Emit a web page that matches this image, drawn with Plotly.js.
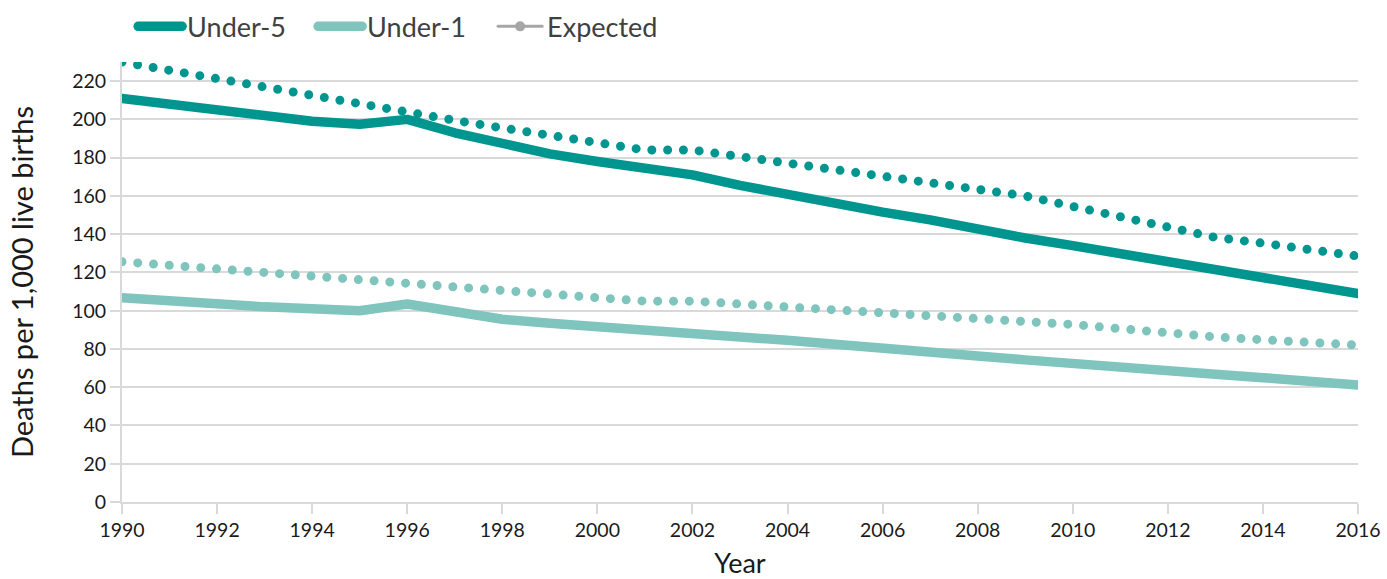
<!DOCTYPE html>
<html>
<head>
<meta charset="utf-8">
<script src="https://cdn.plot.ly/plotly-3.0.1.min.js"></script>
<style>
  html, body { margin: 0; padding: 0; background: #fff; }
  #chart { width: 1387px; height: 579px; }
  .scatterlayer .js-line { stroke-linecap: round !important; stroke-linejoin: round !important; }
  .legend .js-line { stroke-linecap: round !important; }
</style>
</head>
<body>
<div id="chart"></div>
<script>
const years = [1990,1991,1992,1993,1994,1995,1996,1997,1998,1999,2000,2001,2002,2003,2004,2005,2006,2007,2008,2009,2010,2011,2012,2013,2014,2015,2016];
const under5 = [211,208,205,202,199,197.5,200,193,187,182,178,175,171,165.5,160.5,155.5,151.5,147.5,142.5,138,134,130,126,121.5,117,113,109];
const under1 = [106.8,105,103.5,102,101,100,103.5,99,95.5,93.4,91.7,90.7,88.8,86.5,84.5,82.5,80.8,78.8,76.3,74.3,72.7,70.7,68.8,66.8,65,63,61.2];
const expected5 = [230,225.5,221,216.7,212.2,207.8,203.4,199.5,195.5,191.8,187.5,184,184,180.5,177,173.3,170,166.7,163.3,160,154.5,148.8,143.5,138.3,135.3,131.5,128.5];
const expected1 = [125.6,123.6,121.7,119.7,117.7,115.7,113.8,112,110.2,108.7,106.8,105,105,103.5,102,100.7,99.4,98,96.5,95,92.8,90.6,88.2,86.3,84.8,83.2,82];
const seriesNames = ["Under-5", "Under-1", "Expected"];

const dark = "#00968F", light = "#7FC4BD", grey = "#A6A6A6";
const dotDash = "0px,15.8px";
const fam = "Lato, 'Open Sans', sans-serif";

const traces = [
  {x: years, y: expected1, mode: "lines", line: {color: light, width: 9, dash: dotDash}, showlegend: false, hoverinfo: "skip"},
  {x: years, y: expected5, mode: "lines", line: {color: dark, width: 9, dash: dotDash}, showlegend: false, hoverinfo: "skip"},
  {x: years, y: under1, mode: "lines", name: seriesNames[1], line: {color: light, width: 9.5}, legendrank: 2},
  {x: years, y: under5, mode: "lines", name: seriesNames[0], line: {color: dark, width: 9.5}, legendrank: 1},
  {x: [null], y: [null], mode: "lines+markers", name: seriesNames[2], line: {color: grey, width: 3}, marker: {color: grey, size: 10}, legendrank: 3}
];

const axisFont = {family: fam, size: 19.5, color: "#1a1a1a"};
const layout = {
  width: 1387, height: 579,
  margin: {l: 122, r: 29, t: 62, b: 77, pad: 0, autoexpand: false},
  paper_bgcolor: "#fff", plot_bgcolor: "#fff",
  font: {family: fam, color: "#1a1a1a"},
  showlegend: true,
  legend: {
    orientation: "h", x: 0.009, xanchor: "left", y: 1.08, yanchor: "middle",
    font: {family: fam, size: 27, color: "#404040"},
    entrywidth: 121, entrywidthmode: "pixels", itemwidth: 44,
    bgcolor: "rgba(0,0,0,0)", traceorder: "normal"
  },
  xaxis: {
    range: [1990, 2016], tick0: 1990, dtick: 2, tickmode: "linear",
    showgrid: false, zeroline: false,
    showline: true, linecolor: "#D9D9D9", linewidth: 2,
    ticks: "outside", ticklen: 10, tickwidth: 2, tickcolor: "#D9D9D9",
    tickfont: axisFont,
    title: {text: "Year", font: {family: fam, size: 27, color: "#1a1a1a"}, standoff: 26}
  },
  yaxis: {
    range: [0, 230], tick0: 0, dtick: 20, tickmode: "linear",
    showgrid: true, gridcolor: "#D9D9D9", gridwidth: 2, zeroline: false,
    showline: true, linecolor: "#D9D9D9", linewidth: 2,
    ticks: "outside", ticklen: 10, tickwidth: 2, tickcolor: "#D9D9D9",
    tickfont: axisFont,
    title: {text: "Deaths per 1,000 live births", font: {family: fam, size: 29, color: "#1a1a1a"}, standoff: 30}
  }
};

Plotly.newPlot("chart", traces, layout, {displayModeBar: false, staticPlot: true});
</script>
</body>
</html>
